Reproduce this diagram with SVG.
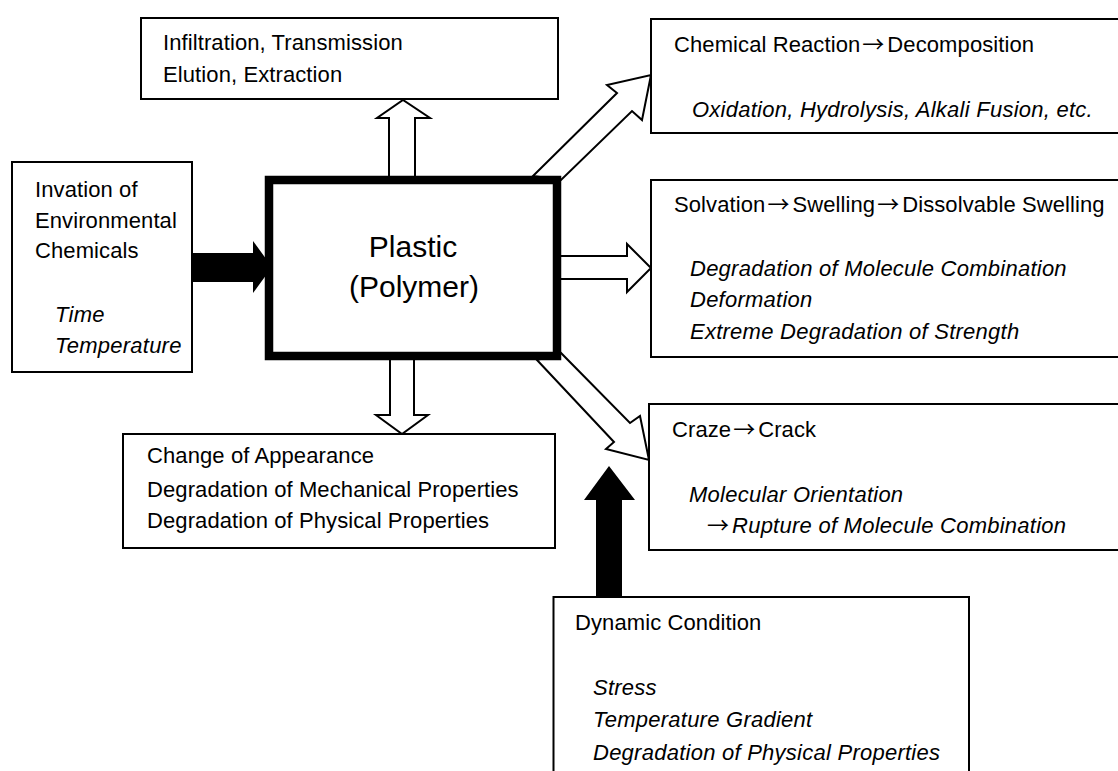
<svg xmlns="http://www.w3.org/2000/svg" width="1118" height="771" viewBox="0 0 1118 771">
<style>
.box{fill:#fff;stroke:#000;stroke-width:2}
.main{fill:#fff;stroke:#000;stroke-width:8.5}
.t{font-family:"Liberation Sans",Arial,sans-serif;font-size:22px;fill:#000;letter-spacing:0.1px}
.i{font-style:italic;letter-spacing:0.25px}
.ar{font-family:"Noto Sans CJK JP","Liberation Sans",sans-serif;font-style:normal;letter-spacing:3px}
.big{font-family:"Liberation Sans",Arial,sans-serif;font-size:30px;fill:#000;text-anchor:middle}
.oa{fill:#fff;stroke:#000;stroke-width:2;stroke-linejoin:miter}
.ba{fill:#000;stroke:none}
</style>
<rect width="1118" height="771" fill="#fff"/>
<g id="connectors">
<polygon class="oa" points="389,185 389,118 377,118 403,100 430,118 415,118 415,185"/>
<polygon class="oa" points="390,352 390,415 376,415 402,434 428,415 414,415 414,352"/>
<polygon class="oa" points="533,176 617,93 607,85 651,75 642,120 632,111 561,180"/>
<polygon class="oa" points="555,256 627,256 627,244 651,268 627,292 627,279 555,279"/>
<polygon class="oa" points="537,360 614,442 606,449 649,460 640,416 630,423 561,353"/>
<polygon class="ba" points="192,253 253,253 253,241 272,267 253,293 253,282 192,282"/>
<polygon class="ba" points="596,598 596,500 584,500 609,466 635,500 622,500 622,598"/>
</g>
<g id="plastic">
<rect class="main" x="269" y="180" width="288" height="176"/>
<text class="big" x="413" y="257">Plastic</text>
<text class="big" x="414" y="297">(Polymer)</text>
</g>
<g id="infiltration">
<rect class="box" x="141" y="18" width="417" height="81"/>
<text class="t" x="163" y="50">Infiltration, Transmission</text>
<text class="t" x="163" y="82">Elution, Extraction</text>
</g>
<g id="invasion">
<rect class="box" x="12" y="162" width="180" height="210"/>
<text class="t" x="35" y="197">Invation of</text>
<text class="t" x="35" y="228">Environmental</text>
<text class="t" x="35" y="258">Chemicals</text>
<text class="t i" x="55" y="322">Time</text>
<text class="t i" x="55" y="353">Temperature</text>
</g>
<g id="appearance">
<rect class="box" x="123" y="434" width="432" height="114"/>
<text class="t" x="147" y="463">Change of Appearance</text>
<text class="t" x="147" y="497">Degradation of Mechanical Properties</text>
<text class="t" x="147" y="528">Degradation of Physical Properties</text>
</g>
<g id="chemical">
<rect class="box" x="651" y="19" width="480" height="114"/>
<text class="t" x="674" y="52">Chemical Reaction<tspan class="ar" dx="2">→</tspan>Decomposition</text>
<text class="t i" x="692" y="117">Oxidation, Hydrolysis, Alkali Fusion, etc.</text>
</g>
<g id="solvation">
<rect class="box" x="651" y="180" width="480" height="177"/>
<text class="t" x="674" y="212">Solvation<tspan class="ar" dx="2">→</tspan>Swelling<tspan class="ar" dx="2">→</tspan>Dissolvable Swelling</text>
<text class="t i" x="690" y="276">Degradation of Molecule Combination</text>
<text class="t i" x="690" y="307">Deformation</text>
<text class="t i" x="690" y="339">Extreme Degradation of Strength</text>
</g>
<g id="craze">
<rect class="box" x="649" y="404" width="480" height="146"/>
<text class="t" x="672" y="437">Craze<tspan class="ar" dx="2">→</tspan>Crack</text>
<text class="t i" x="689" y="502">Molecular Orientation</text>
<text class="t i" x="707" y="533"><tspan class="ar">→</tspan>Rupture of Molecule Combination</text>
</g>
<g id="dynamic">
<rect class="box" x="553.5" y="597" width="415.5" height="200"/>
<text class="t" x="575" y="630">Dynamic Condition</text>
<text class="t i" x="593" y="695">Stress</text>
<text class="t i" x="593" y="727">Temperature Gradient</text>
<text class="t i" x="593" y="760">Degradation of Physical Properties</text>
</g>
</svg>
